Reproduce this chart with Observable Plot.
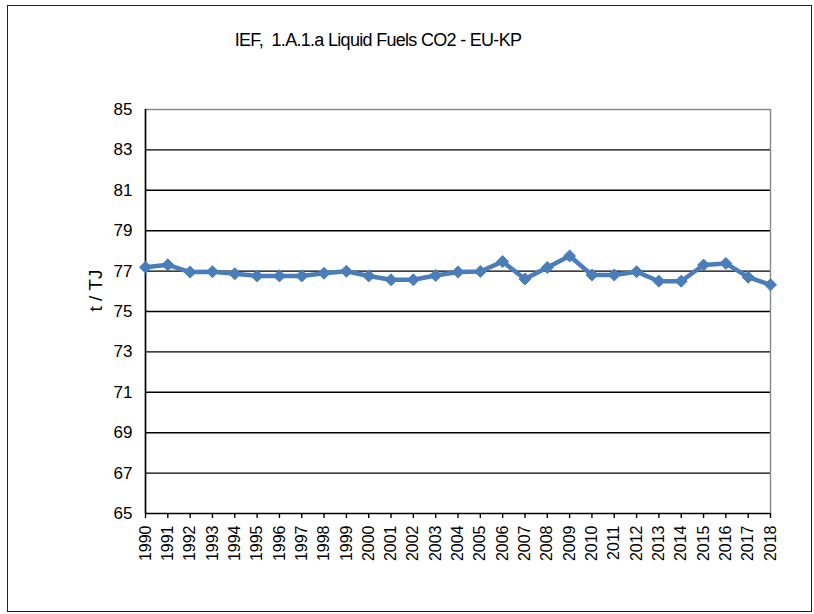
<!DOCTYPE html>
<html>
<head>
<meta charset="utf-8">
<script src="https://cdn.jsdelivr.net/npm/d3@7"></script>
<script src="https://cdn.jsdelivr.net/npm/@observablehq/plot@0.6"></script>
<style>
  html, body { margin: 0; padding: 0; background: #fff; }
  #wrap { position: relative; width: 814px; height: 614px; font-family: "Liberation Sans", Arial, sans-serif; }
  #border { position: absolute; left: 7px; top: 5px; width: 805px; height: 607px; border: 1.5px solid #222; box-sizing: border-box; pointer-events: none; }
  #title { position: absolute; left: 0; top: 30px; width: 756px; text-align: center; font-size: 18px; letter-spacing: -0.7px; color: #000; white-space: pre; }
  #chart { position: absolute; left: 0; top: 0; }
</style>
</head>
<body>
<div id="wrap">
  <div id="chart"></div>
  <div id="border"></div>
  <div id="title"></div>
</div>
<script>
const titleText = "IEF,  1.A.1.a Liquid Fuels CO2 - EU-KP";
const yLabel = "t / TJ";
const years = [1990,1991,1992,1993,1994,1995,1996,1997,1998,1999,2000,2001,2002,2003,2004,2005,2006,2007,2008,2009,2010,2011,2012,2013,2014,2015,2016,2017,2018];
const values = [77.19,77.31,76.95,76.97,76.87,76.76,76.76,76.76,76.89,76.99,76.76,76.57,76.57,76.78,76.96,76.98,77.47,76.61,77.18,77.75,76.81,76.81,76.97,76.50,76.50,77.30,77.38,76.70,76.32];
const yTicks = [65,67,69,71,73,75,77,79,81,83,85];

const data = years.map((year, i) => ({year, value: values[i]}));
document.getElementById("title").textContent = titleText;

const chart = Plot.plot({
  width: 814,
  height: 614,
  marginLeft: 145,
  marginRight: 44,
  marginTop: 109,
  marginBottom: 101,
  style: { fontFamily: '"Liberation Sans", Arial, sans-serif', background: "transparent", color: "#000" },
  x: { type: "linear", domain: [1990, 2018] },
  y: { domain: [65, 85] },
  marks: [
    Plot.ruleY(yTicks.filter(d => d > 65 && d < 85), { stroke: "#000", strokeWidth: 1.4 }),
    Plot.ruleY([85], { stroke: "#888", strokeWidth: 1.4 }),
    Plot.ruleX([2018], { stroke: "#888", strokeWidth: 1.4 }),
    Plot.ruleX([1990], { stroke: "#000", strokeWidth: 1.7 }),
    Plot.ruleY([65], { stroke: "#000", strokeWidth: 1.7 }),
    Plot.axisY({ ticks: yTicks, tickSize: 0, tickPadding: 13, fontSize: 17, label: null }),
    Plot.axisX({ ticks: years, tickFormat: d => String(d), tickRotate: -90, tickSize: 5, tickPadding: 7, fontSize: 16, label: null, strokeWidth: 1.4 }),
    Plot.text([yLabel], { frameAnchor: "left", dx: -50, rotate: -90, fontSize: 19, fill: "#000" }),
    Plot.line(data, { x: "year", y: "value", stroke: "#4A7EBB", strokeWidth: 4.5, strokeLinejoin: "round" }),
    Plot.dot(data, { x: "year", y: "value", symbol: "diamond2", r: 5.4, fill: "#4A7EBB", stroke: "#4A7EBB", strokeWidth: 1 })
  ]
});
document.getElementById("chart").appendChild(chart);
</script>
</body>
</html>
